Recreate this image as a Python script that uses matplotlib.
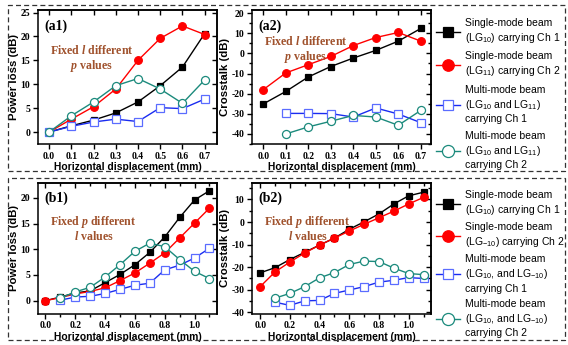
import numpy as np
import matplotlib
matplotlib.use("Agg")
import matplotlib.pyplot as plt
from matplotlib.patches import Rectangle

plt.rcParams['mathtext.fontset'] = 'custom'
plt.rcParams['mathtext.rm'] = 'Liberation Sans'
plt.rcParams['mathtext.it'] = 'Liberation Sans:italic'
plt.rcParams['mathtext.bfit'] = 'Liberation Serif:italic:bold'
plt.rcParams['axes.unicode_minus'] = False

# ---- data ----
x_a = [0.0, 0.1, 0.2, 0.3, 0.4, 0.5, 0.6, 0.7]
x_b = [0.0, 0.1, 0.2, 0.3, 0.4, 0.5, 0.6, 0.7, 0.8, 0.9, 1.0, 1.1]
x_b_multi = x_b[1:]

# (a1) power loss, fixed l different p
a1_single_ch1 = [0.0, 1.3, 2.5, 4.0, 6.3, 9.7, 13.6, 20.6]
a1_single_ch2 = [0.0, 2.7, 5.3, 9.0, 15.0, 19.6, 22.2, 20.4]
a1_multi_ch1 = [0.0, 1.2, 2.1, 2.7, 2.2, 5.1, 4.9, 6.9]
a1_multi_ch2 = [0.0, 3.4, 6.3, 9.7, 11.2, 9.0, 6.0, 10.9]

# (a2) crosstalk, fixed l different p
a2_single_ch1 = [-25.1, -18.9, -11.7, -6.5, -2.3, 1.5, 6.1, 12.4]
a2_single_ch2 = [-18.0, -9.7, -5.6, -1.5, 3.9, 7.9, 10.4, 6.1]
a2_multi_ch1 = [np.nan, -29.8, -29.8, -29.9, -31.6, -27.1, -30.1, -34.4]
a2_multi_ch2 = [np.nan, -40.0, -36.5, -33.7, -30.8, -31.6, -35.7, -28.3]

# (b1) power loss, fixed p different l
b1_single_ch1 = [0.0, 0.7, 1.5, 1.9, 3.5, 5.1, 7.0, 9.4, 12.4, 16.2, 19.6, 21.4]
b1_single_ch2 = [0.0, 0.6, 1.3, 1.8, 2.5, 3.9, 5.4, 7.3, 9.3, 12.2, 15.1, 18.0]
b1_multi_ch1 = [0.1, 0.7, 0.85, 1.4, 2.2, 3.0, 3.4, 6.0, 6.9, 8.3, 10.2]
b1_multi_ch2 = [0.5, 1.7, 2.6, 4.6, 7.0, 9.6, 11.2, 10.5, 8.0, 5.7, 4.3]

# (b2) crosstalk, fixed p different l
b2_single_ch1 = [-22.5, -20.2, -16.6, -13.4, -10.2, -7.1, -3.2, 0.1, 3.6, 8.0, 11.6, 13.2]
b2_single_ch2 = [-28.6, -22.1, -17.7, -13.7, -10.2, -7.1, -4.0, -1.0, 1.9, 4.8, 8.0, 10.9]
b2_multi_ch1 = [-35.5, -36.9, -34.9, -34.7, -31.6, -30.1, -28.6, -26.6, -25.8, -24.6, -25.0]
b2_multi_ch2 = [-33.7, -31.6, -28.6, -24.7, -22.4, -18.8, -17.3, -17.5, -20.4, -22.8, -23.3]

labels_a = ["Single-mode beam\n(LG$_{\\mathrm{10}}$) carrying Ch 1",
            "Single-mode beam\n(LG$_{\\mathrm{11}}$) carrying Ch 2",
            "Multi-mode beam\n(LG$_{\\mathrm{10}}$ and LG$_{\\mathrm{11}}$)\ncarrying Ch 1",
            "Multi-mode beam\n(LG$_{\\mathrm{10}}$ and LG$_{\\mathrm{11}}$)\ncarrying Ch 2"]
labels_b = ["Single-mode beam\n(LG$_{\\mathrm{10}}$) carrying Ch 1",
            "Single-mode beam\n(LG$_{\\mathrm{-10}}$) carrying Ch 2",
            "Multi-mode beam\n(LG$_{\\mathrm{10}}$, and LG$_{\\mathrm{-10}}$)\ncarrying Ch 1",
            "Multi-mode beam\n(LG$_{\\mathrm{10}}$, and LG$_{\\mathrm{-10}}$)\ncarrying Ch 2"]

# ---- styles ----
BLUE = '#1a2cf0'
TEAL = '#1b8a7c'
BROWN = '#a0522d'
styles = [dict(color='black', marker='s', mfc='black', ms=4.8),
          dict(color='red', marker='o', mfc='red', ms=5.5),
          dict(color=BLUE, marker='s', mfc='white', mec='#5a6cff', ms=5.2),
          dict(color=TEAL, marker='o', mfc='white', mec=TEAL, ms=5.8)]

serif = 'Liberation Serif'
sans = 'Liberation Sans'

fig = plt.figure(figsize=(5.68, 3.45), dpi=100)

W = 0.315
ax_a1 = fig.add_axes([0.0669, 0.5826, W, 0.388])
ax_a2 = fig.add_axes([0.4437, 0.5826, W, 0.388])
ax_b1 = fig.add_axes([0.0669, 0.0913, W, 0.3797])
ax_b2 = fig.add_axes([0.4437, 0.0913, W, 0.3797])


def draw(ax, xs_single, xs_multi, series, labels):
    handles = []
    for i, (y, st) in enumerate(zip(series, styles)):
        xs = xs_single if i < 2 else xs_multi
        h, = ax.plot(xs, y, lw=1.0, mew=0.9, label=labels[i], **st)
        handles.append(h)
    return handles


def style_axes(ax, xlim, ylim, xmaj, ymaj, ymin, xmin, ylabel, tag, note1, note2, note_pos):
    ax.set_xlim(*xlim)
    ax.set_ylim(*ylim)
    ax.set_xticks(np.arange(0, xlim[1], xmaj))
    ax.set_yticks(ymaj)
    if ymin is not None:
        ax.set_yticks(ymin, minor=True)
    if xmin is not None:
        ax.set_xticks(xmin, minor=True)
    for sp in ax.spines.values():
        sp.set_linewidth(1.1)
    ax.tick_params(which='both', direction='out', width=1.0, labelsize=7.0, pad=2)
    ax.tick_params(which='major', length=3.5)
    ax.tick_params(which='minor', length=2)
    ax.xaxis.set_major_formatter(matplotlib.ticker.FormatStrFormatter('%.1f'))
    for lab in ax.get_xticklabels() + ax.get_yticklabels():
        lab.set_fontfamily(serif)
        lab.set_fontweight('bold')
    # mirrored ticks on top and right, pointing in
    top = ax.secondary_xaxis('top')
    top.set_xticks(ax.get_xticks())
    if xmin is not None:
        top.set_xticks(xmin, minor=True)
    top.tick_params(which='both', direction='in', labeltop=False, width=1.0)
    top.tick_params(which='major', length=3.5)
    top.tick_params(which='minor', length=2)
    right = ax.secondary_yaxis('right')
    right.set_yticks(ymaj)
    if ymin is not None:
        right.set_yticks(ymin, minor=True)
    right.tick_params(which='both', direction='in', labelright=False, width=1.0)
    right.tick_params(which='major', length=3.5)
    right.tick_params(which='minor', length=2)
    for s in (top, right):
        for sp in s.spines.values():
            sp.set_linewidth(1.1)
    ax.set_xlabel('Horizontal displacement (mm)', fontfamily=sans, fontweight='bold',
                  fontsize=7.4, labelpad=1)
    ax.set_ylabel(ylabel, fontfamily=sans, fontweight='bold', fontsize=8.2, labelpad=1)
    ax.text(0.035, 0.93, tag, transform=ax.transAxes, fontfamily=serif, fontweight='bold',
            fontsize=10, va='top', ha='left')
    ax.text(note_pos[0], note_pos[1], note1, transform=ax.transAxes, fontfamily=serif,
            fontweight='bold', fontsize=8.6, color=BROWN, ha='center', va='center')
    ax.text(note_pos[0], note_pos[1] - 0.115, note2, transform=ax.transAxes, fontfamily=serif,
            fontweight='bold', fontsize=8.6, color=BROWN, ha='center', va='center')


h_a = draw(ax_a1, x_a, x_a, [a1_single_ch1, a1_single_ch2, a1_multi_ch1, a1_multi_ch2], labels_a)
draw(ax_a2, x_a, x_a, [a2_single_ch1, a2_single_ch2, a2_multi_ch1, a2_multi_ch2], labels_a)
draw(ax_b1, x_b, x_b_multi, [b1_single_ch1, b1_single_ch2, b1_multi_ch1, b1_multi_ch2], labels_b)
h_b = draw(ax_b2, x_b, x_b_multi, [b2_single_ch1, b2_single_ch2, b2_multi_ch1, b2_multi_ch2], labels_b)

note_l1 = r'Fixed $\mathbfit{l}$ different'
note_l2 = r'$\mathbfit{p}$ values'
note_p1 = r'Fixed $\mathbfit{p}$ different'
note_p2 = r'$\mathbfit{l}$ values'

style_axes(ax_a1, (-0.05, 0.755), (-2.5, 25.5), 0.1, np.arange(0, 26, 5), None, None,
           'Power loss (dB)', '(a1)', note_l1, note_l2, (0.3, 0.7))
style_axes(ax_a2, (-0.05, 0.745), (-45, 21.5), 0.1, np.arange(-40, 21, 10), np.arange(-45, 21, 5), None,
           'Crosstalk (dB)', '(a2)', note_l1, note_l2, (0.3, 0.765))
style_axes(ax_b1, (-0.05, 1.15), (-2.5, 23), 0.2, np.arange(0, 21, 5), None, np.arange(0, 1.15, 0.1),
           'Power loss (dB)', '(b1)', note_p1, note_p2, (0.31, 0.7))
style_axes(ax_b2, (-0.055, 1.15), (-40.5, 17.5), 0.2, np.arange(-40, 11, 10), np.arange(-40, 16, 5), np.arange(0, 1.15, 0.1),
           'Crosstalk (dB)', '(b2)', note_p1, note_p2, (0.31, 0.7))

leg_kw = dict(frameon=False, handlelength=2.3, handletextpad=0.45,
              markerscale=1.5, borderaxespad=0, borderpad=0,
              prop={'family': sans, 'size': 7.5})
leg1 = fig.legend(handles=h_a, loc='upper left', bbox_to_anchor=(0.768, 0.948),
                  labelspacing=0.62, **leg_kw)
leg2 = fig.legend(handles=h_b, loc='upper left', bbox_to_anchor=(0.768, 0.45),
                  labelspacing=0.5, **leg_kw)
for leg in (leg1, leg2):
    for t in leg.get_texts():
        t.set_linespacing(1.3)

# dashed panel frames
for (x0, y0, x1, y1) in [(8, 5, 565, 171), (8, 178, 565, 340)]:
    fig.add_artist(Rectangle((x0 / 568, 1 - y1 / 345), (x1 - x0) / 568, (y1 - y0) / 345,
                             transform=fig.transFigure, fill=False, ls=(0, (4, 2.5)),
                             lw=0.9, ec='#333333'))

fig.savefig('out.png', dpi=100)
